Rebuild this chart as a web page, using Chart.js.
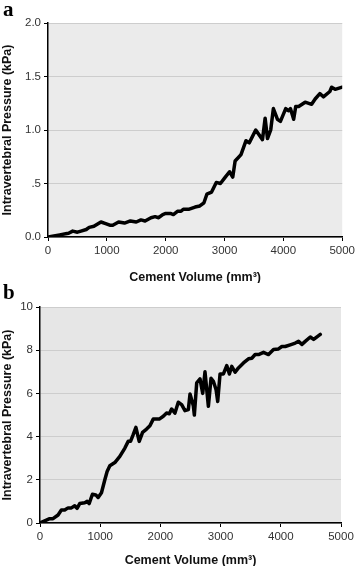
<!DOCTYPE html>
<html>
<head>
<meta charset="utf-8">
<script src="https://cdn.jsdelivr.net/npm/chart.js@4.4.0/dist/chart.umd.min.js"></script>
<style>
  body { margin: 0; background: #fff; width: 358px; height: 566px; overflow: hidden; }
  .panel { position: relative; width: 358px; height: 283px; }
  .tag { position: absolute; left: 3px; top: -3px; font: bold 21px "Liberation Serif", serif; color: #000; }
</style>
</head>
<body>
<div class="panel"><canvas id="chartA" width="358" height="283"></canvas><div class="tag">a</div></div>
<div class="panel"><canvas id="chartB" width="358" height="283"></canvas><div class="tag">b</div></div>
<script>
// panel a: cement volume (mm3) vs pressure (kPa)
const volA = [0, 100, 200, 300, 350, 420, 500, 560, 650, 700, 780, 900, 980, 1050, 1100, 1200, 1300, 1400, 1500, 1580,
  1650, 1750, 1820, 1880, 1950, 2000, 2080, 2130, 2200, 2260, 2300, 2400, 2450, 2500, 2580, 2650, 2700, 2780, 2860, 2930,
  3000, 3085, 3140, 3180, 3280, 3365, 3420, 3530, 3645, 3690, 3730, 3785, 3830, 3900, 3950, 4040, 4090, 4120, 4175, 4210,
  4260, 4370, 4480, 4540, 4620, 4680, 4790, 4820, 4880, 5000];
const presA = [0, 0.01, 0.02, 0.03, 0.035, 0.055, 0.045, 0.055, 0.07, 0.09, 0.1, 0.14, 0.125, 0.11, 0.11, 0.14, 0.13, 0.15, 0.14, 0.16,
  0.15, 0.18, 0.19, 0.18, 0.21, 0.22, 0.22, 0.21, 0.24, 0.24, 0.26, 0.26, 0.27, 0.28, 0.29, 0.32, 0.40, 0.42, 0.51, 0.50,
  0.55, 0.61, 0.56, 0.71, 0.77, 0.90, 0.88, 1.0, 0.91, 1.11, 0.92, 1.0, 1.20, 1.10, 1.08, 1.20, 1.18, 1.20, 1.10, 1.22,
  1.22, 1.26, 1.24, 1.29, 1.34, 1.31, 1.36, 1.40, 1.38, 1.40];
const ticksA = ['0.0', '.5', '1.0', '1.5', '2.0'];

// panel b
const volB = [0, 78, 161, 216, 300, 355, 410, 466, 522, 577, 616, 660, 744, 783, 816, 871, 927, 966, 1021, 1077,
  1115, 1160, 1243, 1326, 1410, 1465, 1504, 1548, 1593, 1648, 1704, 1770, 1826, 1881, 1981, 2048, 2103, 2148, 2186, 2242,
  2297, 2353, 2408, 2464, 2492, 2547, 2564, 2603, 2658, 2703, 2741, 2797, 2841, 2880, 2925, 2952, 2991, 3047, 3102, 3146,
  3185, 3241, 3296, 3380, 3463, 3518, 3574, 3630, 3713, 3796, 3879, 3962, 4018, 4073, 4157, 4240, 4295, 4351, 4406, 4490,
  4545, 4601, 4656];
const presB = [0, 0.1, 0.2, 0.2, 0.37, 0.6, 0.6, 0.7, 0.7, 0.8, 0.68, 0.9, 0.94, 1.0, 0.9, 1.33, 1.3, 1.18, 1.4, 2.0,
  2.38, 2.65, 2.8, 3.08, 3.47, 3.78, 3.78, 4.09, 4.43, 3.78, 4.2, 4.35, 4.5, 4.81, 4.81, 4.94, 5.09, 5.06, 5.28, 5.09,
  5.59, 5.48, 5.2, 5.25, 5.97, 5.43, 5.0, 6.49, 6.67, 6.0, 7.0, 5.4, 6.7, 6.56, 6.17, 5.63, 6.9, 6.9, 7.29, 6.9,
  7.25, 6.98, 7.18, 7.41, 7.6, 7.63, 7.8, 7.8, 7.9, 7.8, 8.03, 8.06, 8.17, 8.17, 8.25, 8.33, 8.41, 8.27, 8.41, 8.61,
  8.5, 8.62, 8.73];
const ticksB = ['0', '2', '4', '6', '8', '10'];

const xTitle = 'Cement Volume (mm³)';
const yTitle = 'Intravertebral Pressure (kPa)';

const plotBg = {
  id: 'plotBg',
  beforeDraw(chart, args, opts) {
    const a = chart.chartArea;
    chart.ctx.save();
    chart.ctx.fillStyle = opts.color;
    chart.ctx.fillRect(a.left, a.top, a.right - a.left, a.bottom - a.top);
    chart.ctx.restore();
  }
};

function makeChart(id, xs, ys, yMax, yStep, labels, bg, pad, yw, xh) {
  const pts = xs.map((x, i) => ({ x: x, y: ys[i] }));
  return new Chart(document.getElementById(id), {
    type: 'line',
    data: { datasets: [{ data: pts, borderColor: '#000', borderWidth: 3.5, borderJoinStyle: 'round', borderCapStyle: 'round',
      pointRadius: 0, tension: 0, fill: false }] },
    plugins: [plotBg],
    options: {
      responsive: false,
      animation: false,
      layout: { padding: pad },
      plugins: { legend: { display: false }, tooltip: { enabled: false }, plotBg: { color: bg } },
      scales: {
        x: {
          type: 'linear', min: 0, max: 5000,
          ticks: { stepSize: 1000, color: '#333', font: { family: 'Liberation Sans', size: 11.5 }, padding: 3, maxRotation: 0,
            callback: v => String(v) },
          grid: { drawOnChartArea: false, tickLength: 4, tickColor: '#000' },
          border: { color: '#000', width: 1.5 },
          title: { display: true, text: xTitle, color: '#111', font: { family: 'Liberation Sans', size: 12.5, weight: 'bold' },
            padding: { top: 9, bottom: -2 } },
          afterFit(s) { s.height = xh; }
        },
        y: {
          min: 0, max: yMax,
          ticks: { stepSize: yStep, color: '#333', font: { family: 'Liberation Sans', size: 11.5 }, padding: 3,
            callback: (v, i) => labels[i] },
          grid: { color: '#cdcdcd', lineWidth: 1, tickLength: 4, tickColor: '#000' },
          border: { color: '#000', width: 1.5 },
          title: { display: true, text: yTitle, color: '#111', font: { family: 'Liberation Sans', size: 12.5, weight: 'bold' }, padding: 0 },
          afterFit(s) { s.width = yw; }
        }
      }
    }
  });
}

makeChart('chartA', volA, presA, 2, 0.5, ticksA, '#ebebeb', { top: 23, right: 12, left: 0, bottom: 0 }, 48, 46);
makeChart('chartB', volB, presB, 10, 2, ticksB, '#e6e6e6', { top: 24, right: 17, left: 0, bottom: 0 }, 40, 43);
</script>
</body>
</html>
